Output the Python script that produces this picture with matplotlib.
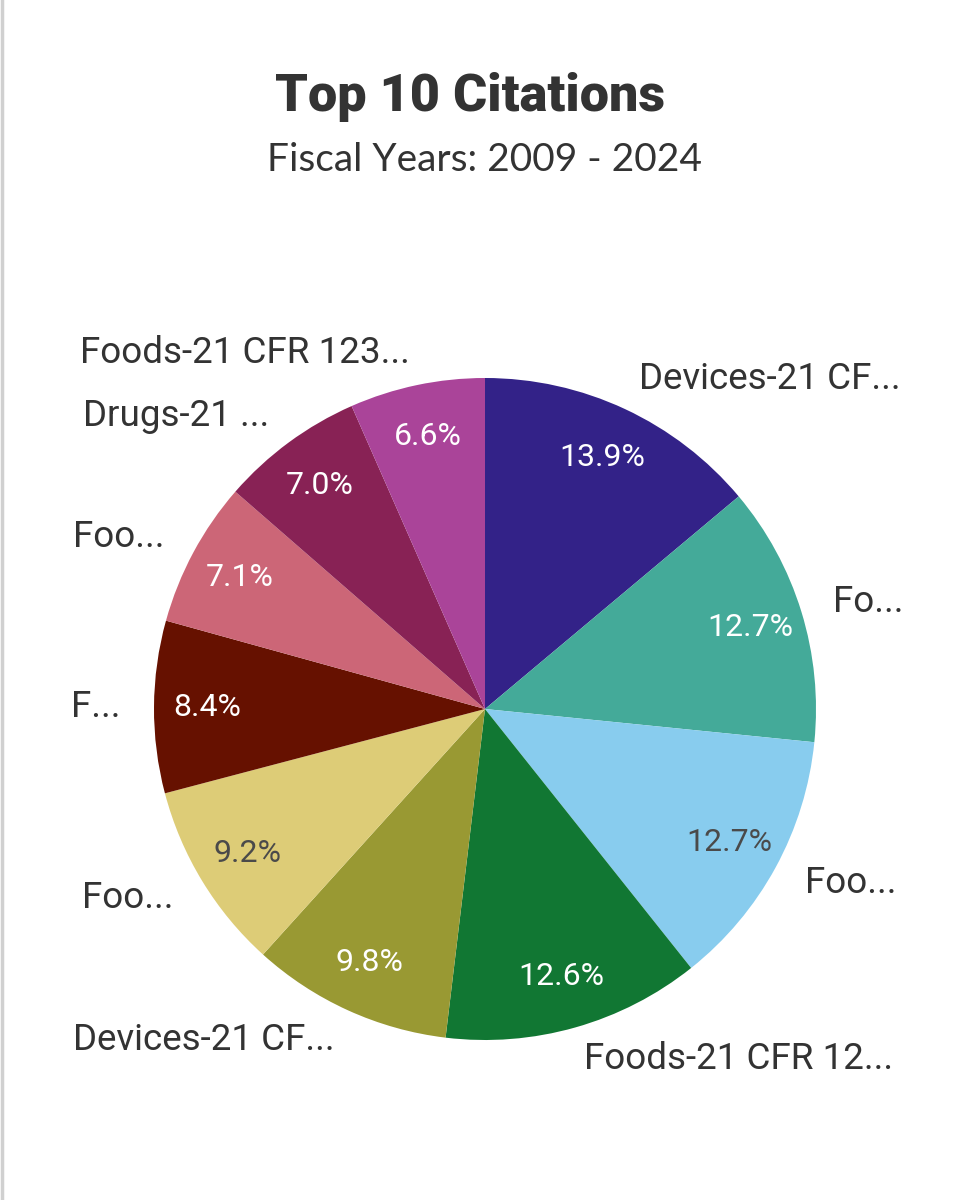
import matplotlib
matplotlib.use("Agg")
import matplotlib.pyplot as plt
from matplotlib.lines import Line2D

labels = ["Devices-21 CF...", "Fo...", "Foo...", "Foods-21 CFR 12...",
          "Devices-21 CF...", "Foo...", "F...", "Foo...", "Drugs-21 ...",
          "Foods-21 CFR 123..."]
values = [13.9, 12.7, 12.7, 12.6, 9.8, 9.2, 8.4, 7.1, 7.0, 6.6]
colors = ["#332288", "#44AA99", "#88CCEE", "#117733", "#999933",
          "#DDCC77", "#661100", "#CC6677", "#882255", "#AA4499"]
pct_colors = ["white", "white", "#4a4a4a", "white", "white",
              "#4a4a4a", "white", "white", "white", "white"]

W, H = 968, 1200
fig = plt.figure(figsize=(W / 100, H / 100), dpi=100)
ax = fig.add_axes([0, 0, 1, 1])

cx, cy, r = 485, H - 709, 331
wedges, texts, autotexts = ax.pie(
    values, labels=labels, colors=colors, startangle=90, counterclock=False,
    center=(cx, cy), radius=r, labeldistance=1.1, pctdistance=0.84,
    autopct="%.1f%%", wedgeprops=dict(linewidth=0),
    textprops=dict(fontfamily="Roboto"), frame=True)
ax.set_xlim(0, W)
ax.set_ylim(0, H)
ax.axis("off")
for t in texts:
    t.set_fontsize(26.5)
    t.set_color("#333333")
    x, _ = t.get_position()
    t.set_ha("left" if x > cx else "right")
for t, c in zip(autotexts, pct_colors):
    t.set_fontsize(23)
    t.set_color(c)

fig.text(470 / W, 1 - 97 / H, "Top 10 Citations", ha="center", va="center",
         fontsize=37.5, fontweight="heavy", fontfamily="Roboto", color="#333333")
fig.text(485 / W, 1 - 160 / H, "Fiscal Years: 2009 - 2024", ha="center",
         va="center", fontsize=28, fontfamily="Lato", color="#333333")

fig.add_artist(Line2D([1.5 / W, 1.5 / W], [0, 1], transform=fig.transFigure,
                      color="#d0d0d0", linewidth=2.5))

fig.savefig("out.png", dpi=100, facecolor="white")
